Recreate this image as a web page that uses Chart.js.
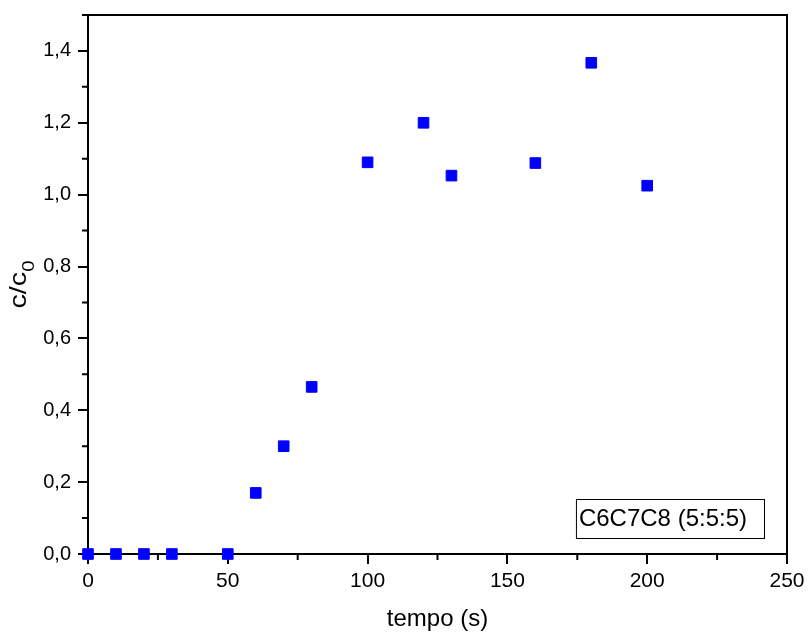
<!DOCTYPE html>
<html lang="pt">
<head>
    <meta charset="UTF-8">
    <title>c/c0 vs tempo</title>
    <script src="https://cdn.jsdelivr.net/npm/chart.js"></script>
    <style>
        body { margin: 0; background: #fff; }
    </style>
</head>
<body>
    <canvas id="chart" width="808" height="634"></canvas>

    <script>
        // valores
        const tempo = [0, 10, 20, 30, 50, 60, 70, 80, 100, 120, 130, 160, 180, 200];
        const cc0 = [0, 0, 0, 0, 0, 0.17, 0.30, 0.465, 1.09, 1.20, 1.053, 1.088, 1.367, 1.025];
        const seriesLabel = 'C6C7C8 (5:5:5)';
        const xTitle = 'tempo (s)';

        const FONT = '"Liberation Sans", Arial, sans-serif';

        // frame on top/right, minor ticks, y title with subscript, label box
        const extras = {
            id: 'extras',
            afterDraw(chart) {
                const ctx = chart.ctx;
                const a = chart.chartArea;
                const xs = chart.scales.x, ys = chart.scales.y;
                ctx.save();
                ctx.strokeStyle = '#000';
                ctx.lineWidth = 2;
                ctx.beginPath();
                ctx.moveTo(a.left, a.top);
                ctx.lineTo(a.right, a.top);
                ctx.lineTo(a.right, a.bottom);
                ctx.stroke();

                // minor ticks
                ctx.beginPath();
                for (let v = 25; v < 250; v += 50) {
                    const px = xs.getPixelForValue(v);
                    ctx.moveTo(px, a.bottom);
                    ctx.lineTo(px, a.bottom + 6);
                }
                for (let v = 0.1; v < 1.5; v += 0.2) {
                    const py = ys.getPixelForValue(v);
                    ctx.moveTo(a.left, py);
                    ctx.lineTo(a.left - 6, py);
                }
                ctx.stroke();

                // y title c/c0
                ctx.translate(26, (a.top + a.bottom) / 2);
                ctx.rotate(-Math.PI / 2);
                ctx.scale(1.2, 1);
                ctx.fillStyle = '#000';
                ctx.textBaseline = 'alphabetic';
                const main = 'c/c';
                ctx.font = '24px ' + FONT;
                const w1 = ctx.measureText(main).width;
                ctx.font = '17px ' + FONT;
                const w2 = ctx.measureText('0').width;
                const start = -(w1 + w2) / 2;
                ctx.font = '24px ' + FONT;
                ctx.fillText(main, start, 0);
                ctx.font = '17px ' + FONT;
                ctx.fillText('0', start + w1, 8);
                ctx.restore();

                // legend box
                ctx.save();
                ctx.font = '24px ' + FONT;
                const tw = ctx.measureText(seriesLabel).width;
                const bw = tw + 20, bh = 39;
                const bx = a.right - 23 - bw, by = a.bottom - 16 - bh;
                ctx.fillStyle = '#fff';
                ctx.fillRect(bx, by, bw, bh);
                ctx.strokeStyle = '#000';
                ctx.lineWidth = 1;
                ctx.strokeRect(bx + 0.5, by + 0.5, bw, bh);
                ctx.fillStyle = '#000';
                ctx.textBaseline = 'middle';
                ctx.fillText(seriesLabel, bx + 3, by + bh / 2 + 1);
                ctx.restore();
            }
        };

        new Chart(document.getElementById('chart'), {
            type: 'scatter',
            data: {
                datasets: [{
                    label: seriesLabel,
                    data: tempo.map((t, i) => ({ x: t, y: cc0[i] })),
                    backgroundColor: '#0000ff',
                    borderColor: '#0000ff',
                    borderWidth: 1,
                    pointStyle: 'rect',
                    pointRadius: 7.5,
                    pointHoverRadius: 7.5,
                    clip: false
                }]
            },
            options: {
                responsive: false,
                animation: false,
                layout: { padding: { top: 15, right: 21, left: 0, bottom: 0 } },
                plugins: {
                    legend: { display: false },
                    tooltip: { enabled: false }
                },
                scales: {
                    x: {
                        type: 'linear',
                        min: 0,
                        max: 250,
                        afterFit: s => { s.height = 80; s.paddingLeft = 0; s.paddingRight = 0; },
                        border: { color: '#000', width: 2 },
                        grid: { drawOnChartArea: false, color: '#000', tickLength: 10, lineWidth: 2 },
                        ticks: {
                            stepSize: 50,
                            color: '#000',
                            padding: 5,
                            font: { family: FONT, size: 21 }
                        },
                        title: {
                            display: true,
                            text: xTitle,
                            color: '#000',
                            padding: { top: 0, bottom: 0 },
                            font: { family: FONT, size: 24 }
                        }
                    },
                    y: {
                        min: 0,
                        max: 1.5,
                        afterFit: s => { s.width = 88; s.paddingTop = 0; s.paddingBottom = 0; },
                        border: { color: '#000', width: 2 },
                        grid: { drawOnChartArea: false, color: '#000', tickLength: 10, lineWidth: 2 },
                        ticks: {
                            stepSize: 0.2,
                            includeBounds: false,
                            color: '#000',
                            padding: 7,
                            font: { family: FONT, size: 20 },
                            callback: v => v.toFixed(1).replace('.', ',')
                        }
                    }
                }
            },
            plugins: [extras]
        });
    </script>
</body>
</html>
